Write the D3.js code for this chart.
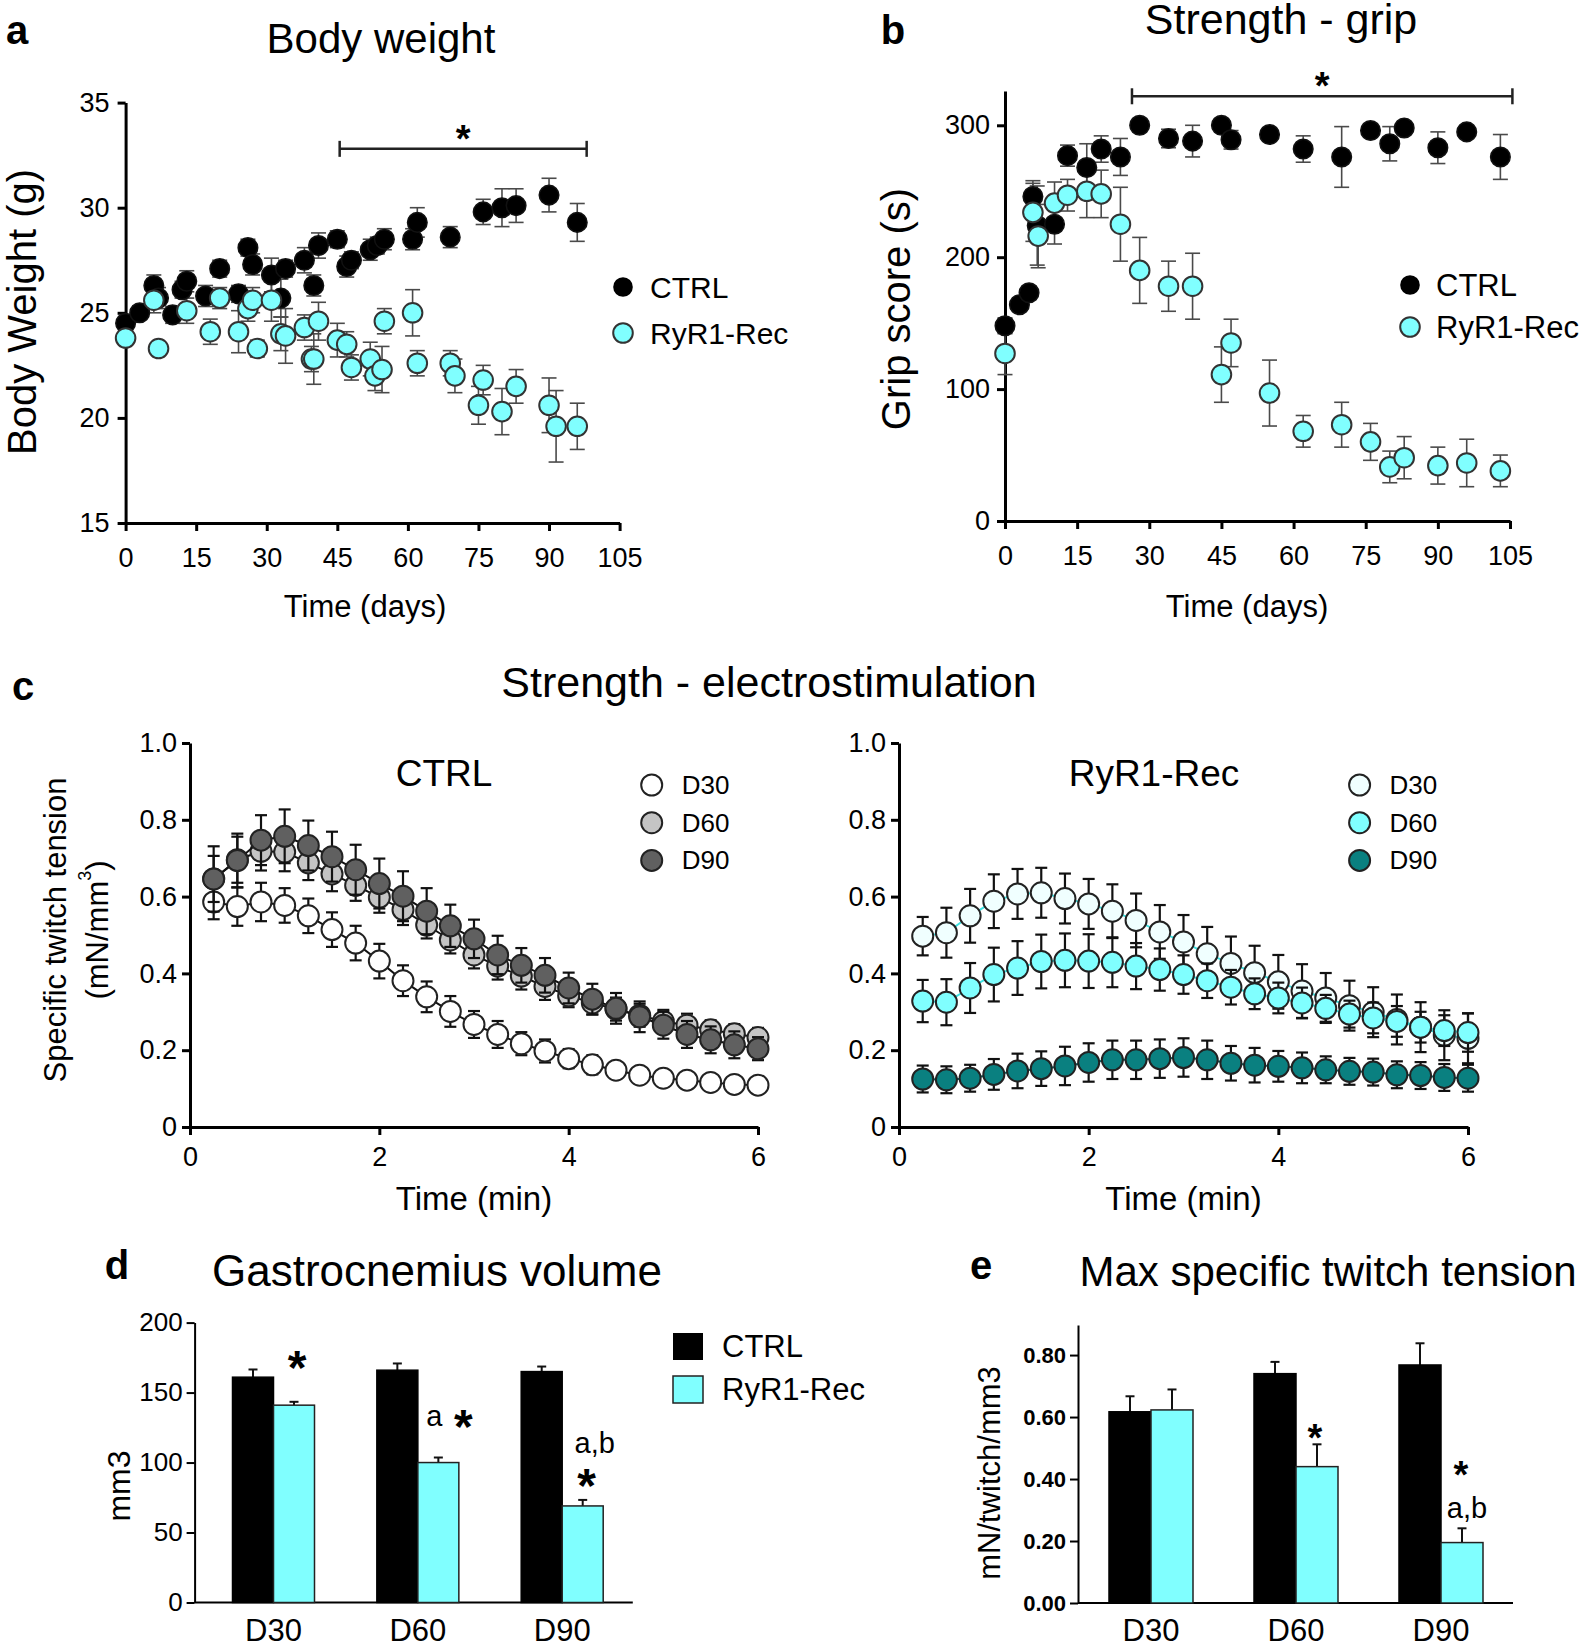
<!DOCTYPE html>
<html><head><meta charset="utf-8">
<script src="https://cdn.jsdelivr.net/npm/d3@7"></script>
<style>
body{margin:0;background:#fff}
svg{display:block}
text{font-family:"Liberation Sans",Arial,Helvetica,sans-serif;fill:#000}
</style></head>
<body><svg id="chart" width="1594" height="1641"></svg>
<script>
// ---------------- DATA ----------------
// (a) Body weight
const bwCtrlDay  = [0,3,6,7,10,12,13,17,20,24,26,27,31,33,34,38,40,41,45,47,48,52,53.5,55,61,62,69,76,80,83,90,96];
const bwCtrlMean = [24.5,25.0,26.3,25.7,24.9,26.1,26.5,25.8,27.1,25.9,28.1,27.3,26.8,25.7,27.1,27.5,26.3,28.2,28.5,27.2,27.5,28.0,28.2,28.5,28.5,29.3,28.6,29.8,30.0,30.1,30.6,29.3];
const bwCtrlSem  = [0.3,0.3,0.5,0.5,0.4,0.4,0.5,0.5,0.4,0.4,0.4,0.5,0.8,0.9,0.4,0.6,0.5,0.6,0.4,0.5,0.4,0.5,0.4,0.5,0.5,0.7,0.5,0.6,0.9,0.8,0.8,0.9];
const bwRecDay   = [0,6,7,13,18,20,24,26,27,28,31,33,34,38,39.5,40,41,45,47,48,52,53,54.5,55,61,62,69,70,75,76,80,83,90,91.5,96];
const bwRecMean  = [23.8,25.6,23.3,25.1,24.1,25.7,24.1,25.2,25.6,23.3,25.6,24.0,23.9,24.3,22.8,22.8,24.6,23.7,23.5,22.4,22.8,22.0,22.3,24.6,25.0,22.6,22.6,22.0,20.6,21.8,20.3,21.5,20.6,19.6,19.6];
const bwRecSem   = [0.3,0.6,0.3,0.6,0.6,0.5,1.0,0.6,0.6,0.4,1.0,0.8,1.3,0.6,0.6,1.2,0.9,0.8,0.6,0.6,0.8,0.7,1.1,0.6,1.1,0.6,0.6,0.8,0.9,0.7,1.1,0.8,1.3,1.7,1.1];
const bwSig = {from:45.5, to:98, level:32.8};

// (b) Grip
const gripCtrlDay  = [0,3,5,5.8,6.7,10.3,13,17,20,24,28,34,39,45,47,55,62,70,76,80,83,90,96,103];
const gripCtrlMean = [148,164,173,246,224,225,277,268,282,276,300,290,288,300,289,293,282,276,296,286,298,283,295,276];
const gripCtrlSem  = [6,5,5,12,30,15,8,18,10,14,3,7,12,3,7,5,10,23,3,13,3,12,3,17];
const gripRecDay   = [0,5.8,6.9,10.3,13,17,20,24,28,34,39,45,47,55,62,70,76,80,83,90,96,103];
const gripRecMean  = [127,234,216,241,247,250,248,225,190,178,178,111,135,97,68,73,60,41,48,42,44,38];
const gripRecSem   = [16,22,24,16,12,20,18,28,25,19,25,21,18,25,12,17,14,12,16,14,18,12];
const gripSig = {from:26.4, to:105.5, level:322};

// (c) Electrostimulation
const elTime = [0.25,0.5,0.75,1,1.25,1.5,1.75,2,2.25,2.5,2.75,3,3.25,3.5,3.75,4,4.25,4.5,4.75,5,5.25,5.5,5.75,6];
const ctrlD30 = [0.586,0.574,0.586,0.577,0.550,0.514,0.479,0.432,0.381,0.339,0.301,0.267,0.241,0.217,0.198,0.178,0.162,0.148,0.135,0.127,0.122,0.116,0.111,0.109];
const ctrlD30e= [0.045,0.05,0.05,0.045,0.045,0.045,0.045,0.045,0.04,0.04,0.04,0.035,0.035,0.03,0.03,0.025,0.025,0.02,0.02,0.02,0.015,0.015,0.012,0.01];
const ctrlD60 = [0.646,0.696,0.718,0.716,0.688,0.659,0.629,0.598,0.566,0.526,0.487,0.448,0.419,0.393,0.366,0.342,0.323,0.307,0.291,0.275,0.265,0.253,0.243,0.233];
const ctrlD60e= [0.06,0.06,0.05,0.05,0.045,0.045,0.04,0.04,0.04,0.035,0.035,0.035,0.035,0.035,0.035,0.03,0.03,0.03,0.03,0.03,0.03,0.025,0.025,0.025];
const ctrlD90 = [0.646,0.694,0.747,0.757,0.733,0.704,0.670,0.634,0.601,0.562,0.524,0.490,0.448,0.421,0.395,0.362,0.333,0.309,0.287,0.265,0.241,0.227,0.214,0.204];
const ctrlD90e= [0.085,0.07,0.065,0.07,0.065,0.065,0.065,0.065,0.065,0.06,0.055,0.05,0.05,0.045,0.045,0.04,0.04,0.04,0.04,0.035,0.035,0.035,0.035,0.03];
const recD30  = [0.497,0.506,0.550,0.588,0.607,0.610,0.595,0.581,0.562,0.538,0.508,0.482,0.451,0.426,0.402,0.378,0.354,0.336,0.316,0.299,0.280,0.260,0.239,0.231];
const recD30e = [0.05,0.065,0.07,0.07,0.065,0.065,0.065,0.065,0.07,0.07,0.07,0.07,0.07,0.07,0.07,0.07,0.07,0.065,0.065,0.065,0.065,0.065,0.065,0.065];
const recD60  = [0.328,0.325,0.362,0.397,0.414,0.431,0.434,0.432,0.429,0.419,0.410,0.397,0.381,0.364,0.347,0.336,0.323,0.309,0.294,0.284,0.275,0.260,0.251,0.246];
const recD60e = [0.055,0.06,0.065,0.07,0.07,0.07,0.07,0.07,0.065,0.06,0.055,0.05,0.045,0.045,0.04,0.04,0.04,0.035,0.035,0.04,0.04,0.04,0.04,0.05];
const recD90  = [0.125,0.123,0.127,0.137,0.146,0.152,0.159,0.168,0.175,0.175,0.178,0.181,0.175,0.166,0.161,0.158,0.154,0.149,0.145,0.143,0.136,0.134,0.129,0.127];
const recD90e = [0.035,0.035,0.035,0.04,0.045,0.045,0.05,0.05,0.05,0.05,0.05,0.05,0.05,0.045,0.045,0.04,0.04,0.035,0.035,0.035,0.035,0.035,0.035,0.035];

// (d) Gastrocnemius volume
const barCats    = ["D30","D60","D90"];
const volCtrl    = [161,166,165];
const volCtrlSem = [5.5,4.8,3.6];
const volRec     = [141,100,69];
const volRecSem  = [2.4,3.6,4.3];
const volNotes   = [["D30","*",175,"star"],["D60","a",133,"txt"],["D60","*",133,"star"],["D90","a,b",114,"txt"],["D90","*",91,"star"]];

// (e) Max specific twitch tension
const tensCtrl    = [0.617,0.740,0.768];
const tensCtrlSem = [0.050,0.038,0.070];
const tensRec     = [0.623,0.440,0.195];
const tensRecSem  = [0.066,0.072,0.046];
const tensNotes   = [["D60","*",0.558,"star"],["D90","*",0.440,"star"],["D90","a,b",0.307,"txt"]];

// ---------------- HELPERS ----------------
const svg = d3.select("#chart");
const CYAN = "#80ffff";
const zip = (xs, ms, es) => xs.map((x,i)=>({x:x, m:ms[i], e:es[i]}));

function styleAxis(g, sw, fs, bold){
  g.select(".domain").attr("stroke","#000").attr("stroke-width",sw);
  g.selectAll(".tick line").attr("stroke","#000").attr("stroke-width",sw);
  g.selectAll(".tick text").attr("font-size",fs).attr("fill","#000")
    .attr("font-family",'"Liberation Sans",Arial,sans-serif')
    .attr("font-weight",bold?"bold":"normal");
}
function txt(x,y,s,size,opt={}){
  const t = svg.append("text").attr("x",x).attr("y",y).attr("font-size",size)
    .attr("text-anchor",opt.anchor||"middle").attr("dominant-baseline",opt.base||"central")
    .attr("font-weight",opt.bold?"bold":"normal").text(s);
  if(opt.rot) t.attr("transform",`rotate(-90,${x},${y})`);
  return t;
}
function errorBars(g, data, x, y, cap, color, sw, upOnly){
  const gg = g.append("g").attr("stroke",color).attr("stroke-width",sw).attr("fill","none");
  data.forEach(d=>{
    const cx = x(d.x), yt = y(d.m+d.e), yb = upOnly? y(d.m) : y(d.m-d.e);
    gg.append("line").attr("x1",cx).attr("x2",cx).attr("y1",yt).attr("y2",yb);
    gg.append("line").attr("x1",cx-cap/2).attr("x2",cx+cap/2).attr("y1",yt).attr("y2",yt);
    if(!upOnly) gg.append("line").attr("x1",cx-cap/2).attr("x2",cx+cap/2).attr("y1",yb).attr("y2",yb);
  });
}
function points(g, data, x, y, r, fill, stroke, sw){
  g.append("g").selectAll("circle").data(data).join("circle")
    .attr("cx",d=>x(d.x)).attr("cy",d=>y(d.m)).attr("r",r)
    .attr("fill",fill).attr("stroke",stroke).attr("stroke-width",sw);
}
function sigBar(g, x, y, s, cap, fs){
  g.append("line").attr("x1",x(s.from)).attr("x2",x(s.to)).attr("y1",y(s.level)).attr("y2",y(s.level))
    .attr("stroke","#222").attr("stroke-width",2.5);
  [s.from,s.to].forEach(v=>g.append("line").attr("x1",x(v)).attr("x2",x(v))
    .attr("y1",y(s.level)-cap).attr("y2",y(s.level)+cap).attr("stroke","#222").attr("stroke-width",2.5));
  g.append("text").attr("x",(x(s.from)+x(s.to))/2).attr("y",y(s.level)-18+fs*0.55)
    .attr("text-anchor","middle").attr("font-size",fs).attr("font-weight","bold").text("*");
}

// ---------------- PANEL A ----------------
{
  const x = d3.scaleLinear().domain([0,105]).range([125.6,619.6]);
  const y = d3.scaleLinear().domain([15,35]).range([523,102.6]);
  const g = svg.append("g");
  styleAxis(g.append("g").attr("transform","translate(0,523)")
    .call(d3.axisBottom(x).tickValues([0,15,30,45,60,75,90,105]).tickSize(8).tickSizeOuter(0).tickPadding(17)),3,27);
  styleAxis(g.append("g").attr("transform","translate(125.6,0)")
    .call(d3.axisLeft(y).tickValues([15,20,25,30,35]).tickSize(8).tickSizeOuter(0).tickPadding(8)),3,27);
  const ctrl = zip(bwCtrlDay,bwCtrlMean,bwCtrlSem), rec = zip(bwRecDay,bwRecMean,bwRecSem);
  errorBars(g, ctrl, x, y, 15, "#4a4a4a", 1.6, false);
  errorBars(g, rec, x, y, 15, "#4a4a4a", 1.6, false);
  points(g, ctrl, x, y, 9.8, "#000", "#111", 1.5);
  points(g, rec, x, y, 9.8, CYAN, "#333", 2);
  sigBar(g, x, y, bwSig, 8, 38);
  txt(17,30,"a",40,{bold:true});
  txt(381,38,"Body weight",42);
  txt(22,312,"Body Weight (g)",40,{rot:true});
  txt(365,606,"Time (days)",31);
  g.append("circle").attr("cx",623).attr("cy",287).attr("r",9.8).attr("fill","#000");
  g.append("circle").attr("cx",623).attr("cy",333).attr("r",9.8).attr("fill",CYAN).attr("stroke","#333").attr("stroke-width",2);
  txt(650,287,"CTRL",30,{anchor:"start"});
  txt(650,333,"RyR1-Rec",30,{anchor:"start"});
}

// ---------------- PANEL B ----------------
{
  const x = d3.scaleLinear().domain([0,105]).range([1005,1510]);
  const y = d3.scaleLinear().domain([0,326]).range([521,91]);
  const g = svg.append("g");
  styleAxis(g.append("g").attr("transform","translate(0,521)")
    .call(d3.axisBottom(x).tickValues([0,15,30,45,60,75,90,105]).tickSize(8).tickSizeOuter(0).tickPadding(17)),3,27);
  styleAxis(g.append("g").attr("transform","translate(1005,0)")
    .call(d3.axisLeft(y).tickValues([0,100,200,300]).tickSize(8).tickSizeOuter(0).tickPadding(7)),3,27);
  const ctrl = zip(gripCtrlDay,gripCtrlMean,gripCtrlSem), rec = zip(gripRecDay,gripRecMean,gripRecSem);
  errorBars(g, ctrl, x, y, 15, "#4a4a4a", 1.6, false);
  errorBars(g, rec, x, y, 15, "#4a4a4a", 1.6, false);
  points(g, ctrl, x, y, 9.8, "#000", "#111", 1.5);
  points(g, rec, x, y, 9.8, CYAN, "#333", 2);
  sigBar(g, x, y, gripSig, 8, 38);
  txt(893,30,"b",40,{bold:true});
  txt(1281,19,"Strength - grip",43);
  txt(896,309,"Grip score (s)",40,{rot:true});
  txt(1247,606,"Time (days)",31);
  g.append("circle").attr("cx",1410).attr("cy",285).attr("r",9.8).attr("fill","#000");
  g.append("circle").attr("cx",1410).attr("cy",327).attr("r",9.8).attr("fill",CYAN).attr("stroke","#333").attr("stroke-width",2);
  txt(1436,285,"CTRL",31,{anchor:"start"});
  txt(1436,327,"RyR1-Rec",31,{anchor:"start"});
}

// ---------------- PANEL C ----------------
txt(23,686,"c",40,{bold:true});
txt(769,682,"Strength - electrostimulation",43);
function elPanel(x0, x1, title, titleX, legX, series){
  const x = d3.scaleLinear().domain([0,6]).range([x0,x1]);
  const y = d3.scaleLinear().domain([0,1]).range([1127,743]);
  const g = svg.append("g");
  styleAxis(g.append("g").attr("transform","translate(0,1127)")
    .call(d3.axisBottom(x).tickValues([0,2,4,6]).tickFormat(d3.format("d")).tickSize(8).tickSizeOuter(0).tickPadding(12)),3,27);
  styleAxis(g.append("g").attr("transform",`translate(${x0},0)`)
    .call(d3.axisLeft(y).tickValues([0,0.2,0.4,0.6,0.8,1.0]).tickFormat(d=>d===0?"0":d3.format(".1f")(d))
      .tickSize(8).tickSizeOuter(0).tickPadding(5)),3,27);
  series.forEach(s=>{
    const data = zip(elTime, s.v, s.e);
    g.append("path").datum(data).attr("fill","none").attr("stroke",s.line).attr("stroke-width",2)
      .attr("d",d3.line().x(d=>x(d.x)).y(d=>y(d.m)));
    errorBars(g, data, x, y, 12, "#111", 2.2, false);
    points(g, data, x, y, 10.5, s.fill, "#222", 2);
  });
  txt(titleX,773,title,37);
  series.forEach((s,i)=>{
    const cy = 785 + i*37.7;
    g.append("circle").attr("cx",legX).attr("cy",cy).attr("r",10.5).attr("fill",s.fill).attr("stroke","#222").attr("stroke-width",2);
    txt(legX+30,cy,s.name,26,{anchor:"start"});
  });
  txt((x0+x1)/2,1198,"Time (min)",33);
}
elPanel(190,758,"CTRL",444,651.7,[
  {name:"D30",v:ctrlD30,e:ctrlD30e,fill:"#ffffff",line:"#111"},
  {name:"D60",v:ctrlD60,e:ctrlD60e,fill:"#c4c4c4",line:"#111"},
  {name:"D90",v:ctrlD90,e:ctrlD90e,fill:"#606060",line:"#111"}]);
elPanel(899,1468,"RyR1-Rec",1154,1359.6,[
  {name:"D30",v:recD30,e:recD30e,fill:"#f0ffff",line:"#3ee0e0"},
  {name:"D60",v:recD60,e:recD60e,fill:CYAN,line:"#3ee0e0"},
  {name:"D90",v:recD90,e:recD90e,fill:"#0a8080",line:"#0a6060"}]);
txt(55,930,"Specific twitch tension",31,{rot:true});
{
  const t = txt(97,930,"(mN/mm",31,{rot:true});
  t.append("tspan").attr("font-size",18).attr("dy",-12).text("3");
  t.append("tspan").attr("dy",12).text(")");
}

// ---------------- BAR PANELS ----------------
function barPanel(opt){
  const x = d3.scalePoint().domain(barCats).range(opt.xr);
  const y = d3.scaleLinear().domain(opt.yd).range(opt.yr);
  const g = svg.append("g");
  const bw = opt.bw;
  g.append("line").attr("x1",opt.ax0).attr("x2",opt.ax1).attr("y1",y(0)).attr("y2",y(0)).attr("stroke","#000").attr("stroke-width",2);
  const ctrl = barCats.map((c,i)=>({c, m:opt.ctrl[i], e:opt.ctrlE[i]}));
  const rec  = barCats.map((c,i)=>({c, m:opt.rec[i],  e:opt.recE[i]}));
  errorBars(g, ctrl.map(d=>({x:d.c,m:d.m,e:d.e})), c=>x(c)-bw/2, y, 9, "#111", 2, true);
  errorBars(g, rec.map(d=>({x:d.c,m:d.m,e:d.e})), c=>x(c)+bw/2, y, 9, "#111", 2, true);
  g.append("g").selectAll("rect").data(ctrl).join("rect")
    .attr("x",d=>x(d.c)-bw).attr("width",bw).attr("y",d=>y(d.m)).attr("height",d=>y(0)-y(d.m))
    .attr("fill","#000").attr("stroke","#000").attr("stroke-width",1.5);
  g.append("g").selectAll("rect").data(rec).join("rect")
    .attr("x",d=>x(d.c)).attr("width",bw).attr("y",d=>y(d.m)).attr("height",d=>y(0)-y(d.m))
    .attr("fill",CYAN).attr("stroke","#222").attr("stroke-width",1.5);
  styleAxis(g.append("g").attr("transform",`translate(${opt.ax0},0)`)
    .call(d3.axisLeft(y).tickValues(opt.ticks).tickFormat(opt.fmt).tickSize(8).tickSizeOuter(0).tickPadding(4)),2,opt.tfs,opt.tbold);
  barCats.forEach(c=>txt(x(c),1630,c,31));
  opt.notes.forEach(n=>{
    const cx = x(n[0]) + bw/2 + (n[3]==="star"? opt.starDx(n):opt.txtDx(n));
    if(n[3]==="star"){
      g.append("text").attr("x",cx).attr("y",y(n[2])+opt.starFs*0.55).attr("text-anchor","middle")
        .attr("font-size",opt.starFs).attr("font-weight","bold").text("*");
    } else {
      txt(cx,y(n[2]),n[1],29);
    }
  });
  return {x,y,g};
}
barPanel({xr:[273.5,562.2], yd:[0,200], yr:[1602.5,1322.6], ax0:194.6, ax1:632.8, bw:41,
  ctrl:volCtrl, ctrlE:volCtrlSem, rec:volRec, recE:volRecSem, ticks:[0,50,100,150,200], fmt:d3.format("d"),
  tfs:26, tbold:false, notes:volNotes, starFs:48,
  starDx:n=> n[0]==="D30"? 3 : (n[0]==="D60"? 25 : 4), txtDx:n=> n[0]==="D60"? -4 : 12});
txt(117,1265,"d",40,{bold:true});
txt(437,1270,"Gastrocnemius volume",44);
txt(119,1486,"mm3",32,{rot:true});
svg.append("rect").attr("x",673).attr("y",1333).attr("width",30).attr("height",27).attr("fill","#000");
svg.append("rect").attr("x",673).attr("y",1376).attr("width",30).attr("height",27).attr("fill",CYAN).attr("stroke","#222").attr("stroke-width",1.5);
txt(722,1346,"CTRL",31,{anchor:"start"});
txt(722,1389,"RyR1-Rec",31,{anchor:"start"});

barPanel({xr:[1151,1441], yd:[0,0.897], yr:[1603,1325], ax0:1078, ax1:1513, bw:42,
  ctrl:tensCtrl, ctrlE:tensCtrlSem, rec:tensRec, recE:tensRecSem, ticks:[0,0.2,0.4,0.6,0.8], fmt:d3.format(".2f"),
  tfs:22, tbold:true, notes:tensNotes, starFs:38,
  starDx:n=> n[0]==="D60"? -2 : -1, txtDx:n=> 5});
txt(981,1265,"e",40,{bold:true});
txt(1328,1271,"Max specific twitch tension",42);
txt(989,1473,"mN/twitch/mm3",31,{rot:true});
</script>
</body></html>
